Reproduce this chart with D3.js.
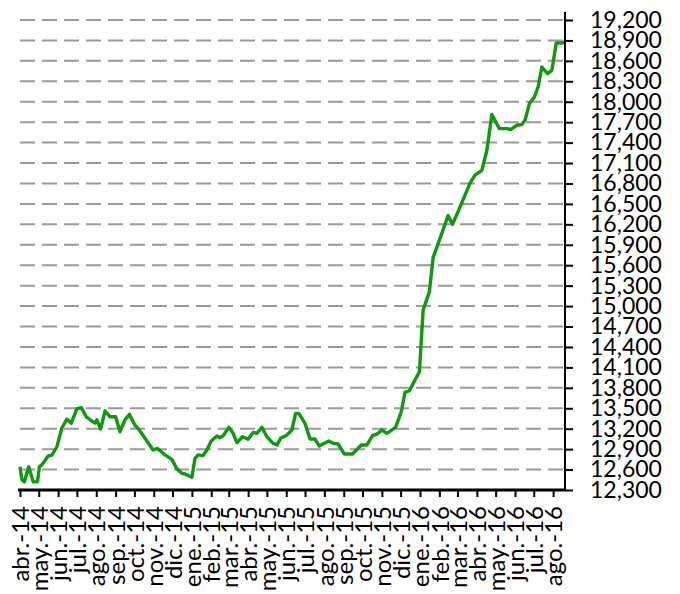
<!DOCTYPE html>
<html>
<head>
    <meta charset="utf-8">
    <title>indice</title>
    <script src="https://d3js.org/d3.v7.min.js"></script>
    <style>
        body { margin: 0; background: #fff; }
        text { font-family: Lato, "Open Sans", sans-serif; fill: #000; }
    </style>
</head>
<body>
<svg width="680" height="594" id="mainsvg"></svg>
<script>
    // fechas y valores
    const dates = [
        '2014-04-01','2014-04-04','2014-04-08','2014-04-15','2014-04-22','2014-04-29','2014-05-02','2014-05-07',
        '2014-05-16','2014-05-22','2014-05-30','2014-06-07','2014-06-15','2014-06-22','2014-07-01','2014-07-08',
        '2014-07-16','2014-07-30','2014-08-02','2014-08-08','2014-08-15','2014-08-23','2014-09-01','2014-09-08',
        '2014-09-16','2014-09-23','2014-10-02','2014-10-07','2014-10-21','2014-10-31','2014-11-07','2014-11-19',
        '2014-11-30','2014-12-08','2014-12-16','2014-12-21','2015-01-01','2015-01-06','2015-01-11','2015-01-19',
        '2015-01-25','2015-02-01','2015-02-10','2015-02-15','2015-02-21','2015-03-01','2015-03-08','2015-03-14',
        '2015-03-23','2015-04-01','2015-04-09','2015-04-15','2015-04-23','2015-05-01','2015-05-11','2015-05-17',
        '2015-05-23','2015-06-02','2015-06-10','2015-06-16','2015-06-21','2015-07-01','2015-07-09','2015-07-17',
        '2015-07-24','2015-08-01','2015-08-08','2015-08-15','2015-08-23','2015-09-02','2015-09-15','2015-09-29',
        '2015-10-08','2015-10-17','2015-10-24','2015-11-01','2015-11-09','2015-11-23','2015-12-02','2015-12-08',
        '2015-12-15','2015-12-31','2016-01-06','2016-01-16','2016-01-22','2016-02-15','2016-02-22','2016-03-03',
        '2016-03-21','2016-03-29','2016-04-09','2016-04-17','2016-04-25','2016-05-07','2016-05-19','2016-05-25',
        '2016-06-04','2016-06-12','2016-06-17','2016-06-24','2016-07-02','2016-07-08','2016-07-14','2016-07-23',
        '2016-07-30','2016-08-06','2016-08-15','2016-08-20'
    ];
    const values = [
        12640, 12450, 12420, 12640, 12420, 12420, 12640, 12680,
        12800, 12810, 12935, 13210, 13340, 13280, 13490, 13510,
        13375, 13280, 13330, 13195, 13460, 13375, 13375, 13155,
        13330, 13410, 13250, 13205, 13020, 12887, 12910, 12815,
        12750, 12610, 12545, 12535, 12486, 12765, 12815, 12805,
        12887, 13020, 13092, 13067, 13107, 13220, 13132, 12994,
        13082, 13044, 13146, 13132, 13220, 13082, 12985, 12960,
        13058, 13107, 13180, 13425, 13425, 13278, 13048, 13048,
        12945, 12985, 13020, 12985, 12975, 12828, 12828, 12960,
        12960, 13097, 13121, 13180, 13132, 13220, 13449, 13733,
        13757, 14035, 14941, 15209, 15711, 16327, 16202, 16408,
        16804, 16921, 16994, 17288, 17812, 17606, 17606, 17591,
        17655, 17665, 17728, 17973, 18070, 18217, 18510, 18413,
        18461, 18862, 18862, 18877
    ];
    const monthNames = ['ene.','feb.','mar.','abr.','may.','jun.','jul.','ago.','sep.','oct.','nov.','dic.'];
    const yTicks = [12300, 12600, 12900, 13200, 13500, 13800, 14100, 14400, 14700, 15000, 15300, 15600,
        15900, 16200, 16500, 16800, 17100, 17400, 17700, 18000, 18300, 18600, 18900, 19200];
    const xStart = '2014-04-01', xEnd = '2016-08-20';

    const parseDate = d3.timeParse('%Y-%m-%d');
    const data = dates.map((d, i) => ({ date: parseDate(d), value: values[i] }));

    const svg = d3.select('#mainsvg');
    const plotLeft = 20, plotRight = 565, plotTop = 20, plotBottom = 490;

    const xScale = d3.scaleTime()
        .domain([parseDate(xStart), parseDate(xEnd)])
        .range([plotLeft, plotRight]);
    const yScale = d3.scaleLinear()
        .domain([12300, 19200])
        .range([plotBottom, plotTop]);

    // lineas de division discontinuas
    svg.append('g').selectAll('line')
        .data(yTicks.filter(t => t > 12300))
        .join('line')
        .attr('x1', plotLeft).attr('x2', plotRight)
        .attr('y1', d => yScale(d)).attr('y2', d => yScale(d))
        .attr('stroke', '#9a9a9a')
        .attr('stroke-width', 2)
        .attr('stroke-dasharray', '15,7');

    // serie
    const line = d3.line()
        .x(d => xScale(d.date))
        .y(d => yScale(d.value));
    svg.append('path')
        .datum(data)
        .attr('d', line)
        .attr('fill', 'none')
        .attr('stroke', '#0f990f')
        .attr('stroke-width', 3.4)
        .attr('stroke-linejoin', 'round');

    // eje x
    const monthTicks = d3.timeMonth.range(parseDate(xStart), parseDate('2016-08-02'));
    const xAxis = d3.axisBottom(xScale)
        .tickValues(monthTicks)
        .tickSize(7)
        .tickSizeOuter(0)
        .tickFormat(d => monthNames[d.getMonth()] + '-' + d3.timeFormat('%y')(d));
    const xg = svg.append('g')
        .attr('transform', `translate(0,${plotBottom})`)
        .call(xAxis);
    xg.select('.domain').remove();
    xg.selectAll('.tick line').attr('stroke', '#000').attr('stroke-width', 2);
    xg.selectAll('.tick text')
        .attr('transform', 'rotate(-90)')
        .attr('x', -16)
        .attr('y', 0)
        .attr('dy', '0.36em')
        .attr('text-anchor', 'end')
        .attr('font-size', 24);

    // eje y a la derecha
    const yAxis = d3.axisRight(yScale)
        .tickValues(yTicks)
        .tickSize(8)
        .tickPadding(17)
        .tickFormat(d3.format(','));
    const yg = svg.append('g')
        .attr('transform', `translate(${plotRight},0)`)
        .call(yAxis);
    yg.select('.domain').remove();
    yg.selectAll('.tick line').attr('stroke', '#000').attr('stroke-width', 2);
    yg.selectAll('.tick text').attr('font-size', 23);

    svg.append('line')
        .attr('x1', plotLeft - 2).attr('x2', plotRight + 1)
        .attr('y1', plotBottom).attr('y2', plotBottom)
        .attr('stroke', '#000').attr('stroke-width', 3);
    svg.append('line')
        .attr('x1', plotRight).attr('x2', plotRight)
        .attr('y1', 12).attr('y2', plotBottom)
        .attr('stroke', '#000').attr('stroke-width', 2);
</script>
</body>
</html>
